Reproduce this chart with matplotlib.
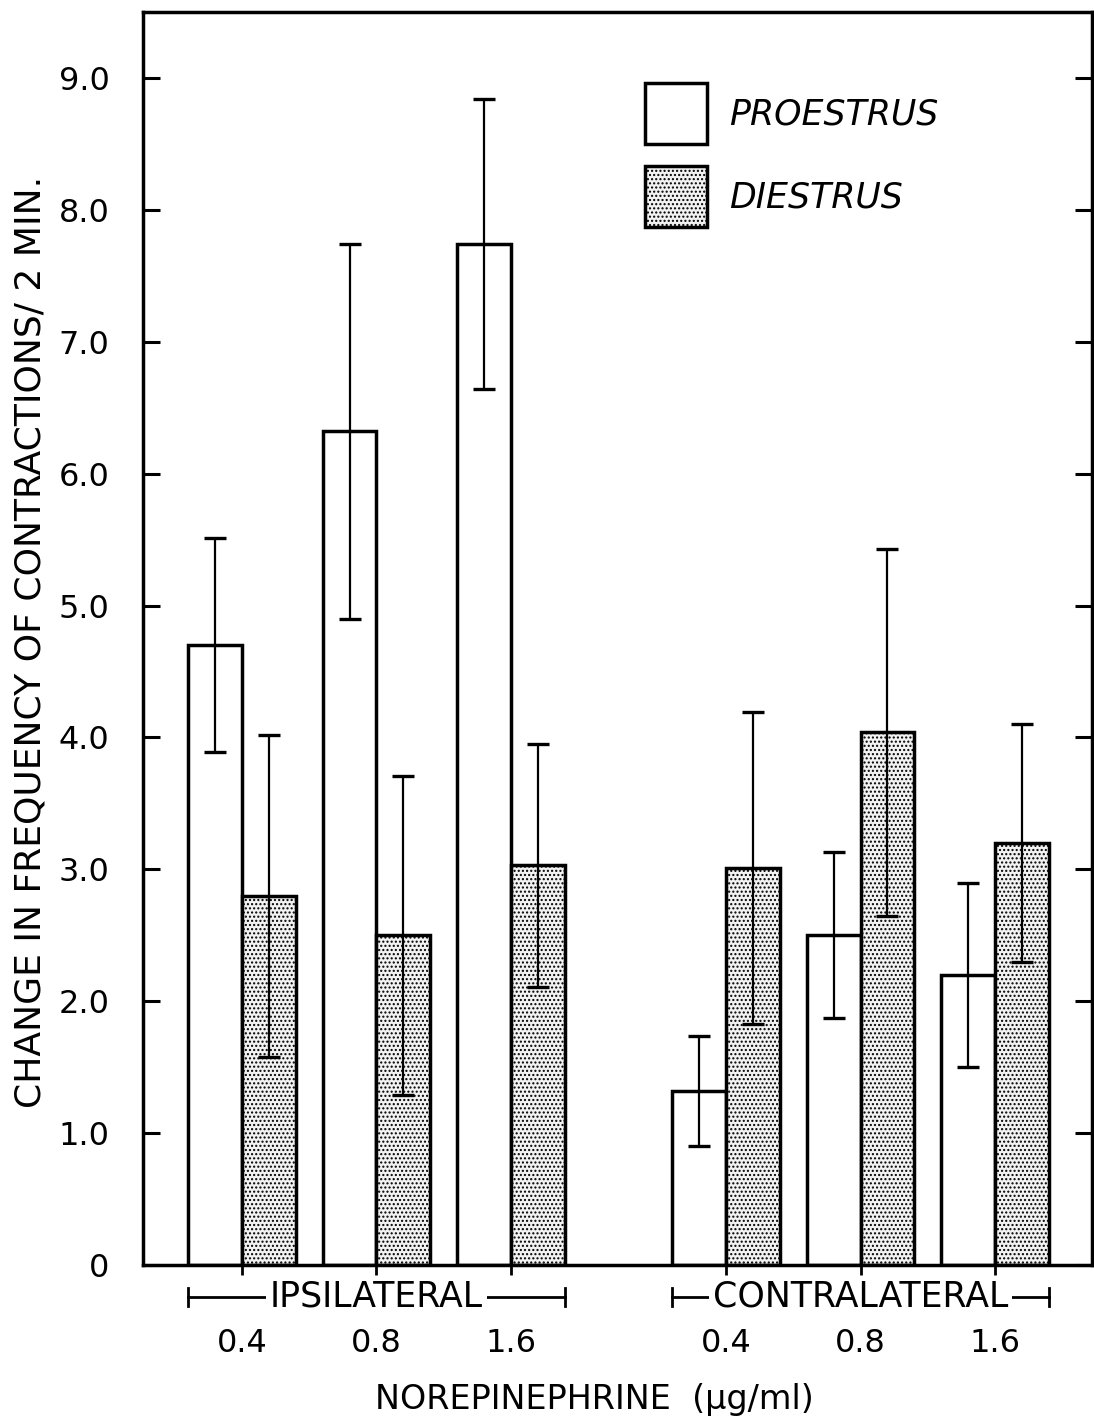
import matplotlib.pyplot as plt
from matplotlib.patches import Patch
import numpy as np

# values (6 doses: ipsilateral 0.4/0.8/1.6, contralateral 0.4/0.8/1.6)
dose_labels = ['0.4', '0.8', '1.6', '0.4', '0.8', '1.6']
groups = ['IPSILATERAL', 'CONTRALATERAL']
proestrus = [4.7, 6.32, 7.74, 1.32, 2.5, 2.2]
proestrus_err = [0.81, 1.42, 1.1, 0.42, 0.63, 0.7]
diestrus = [2.8, 2.5, 3.03, 3.01, 4.04, 3.2]
diestrus_err = [1.22, 1.21, 0.92, 1.18, 1.39, 0.9]

plt.rcParams['font.family'] = 'DejaVu Sans'
plt.rcParams['hatch.color'] = '#222222'
plt.rcParams['hatch.linewidth'] = 1.0

fig = plt.figure(figsize=(10.94, 14.19), dpi=100)
ax = fig.add_axes([0.1307, 0.1085, 0.8673, 0.8830])

# pair positions: three pairs per group, wide gap between the groups
n = len(proestrus)
pair_x = np.array([(i % 3) * 2.5 + (i // 3) * 9.0 for i in range(n)])
w = 1.0

ax.bar(pair_x, proestrus, w, color='white', edgecolor='black', linewidth=2.5, zorder=2)
ax.bar(pair_x + w, diestrus, w, color='#f2f2f2', edgecolor='black', linewidth=2.5,
       hatch='....', zorder=2)

ax.errorbar(pair_x, proestrus, yerr=proestrus_err, fmt='none', ecolor='black',
            elinewidth=1.6, capsize=8, capthick=2.4, zorder=3)
ax.errorbar(pair_x + w, diestrus, yerr=diestrus_err, fmt='none', ecolor='black',
            elinewidth=1.6, capsize=8, capthick=2.4, zorder=3)

ax.set_xlim(-1.34, 16.3)
ax.set_ylim(0, 9.5)

# y axis
yt = np.arange(0, 10)
ax.set_yticks(yt)
ax.set_yticklabels(['0'] + ['%.1f' % v for v in yt[1:]])
ax.tick_params(axis='y', direction='in', length=12, width=2.2, labelsize=23,
               pad=24, right=True)

# x axis: ticks between the pair bars
ax.set_xticks(pair_x + w / 2)
ax.set_xticklabels(dose_labels)
ax.tick_params(axis='x', direction='out', length=7, width=2, labelsize=23, pad=38)

for s in ax.spines.values():
    s.set_linewidth(2.5)

# group brackets under the axis
tr = ax.get_xaxis_transform()
for g, name in enumerate(groups):
    x0 = pair_x[g * 3] - w / 2
    x1 = pair_x[g * 3 + 2] + 1.5 * w
    yb = -0.0255
    ax.plot([x0, x1], [yb, yb], color='black', lw=2, transform=tr, clip_on=False)
    for xe in (x0, x1):
        ax.plot([xe, xe], [yb - 0.007, yb + 0.007], color='black', lw=2,
                transform=tr, clip_on=False)
    ax.text((x0 + x1) / 2, yb, name, transform=tr, ha='center', va='center',
            fontsize=25, bbox=dict(facecolor='white', edgecolor='none', pad=3))

ax.set_ylabel('CHANGE IN FREQUENCY OF CONTRACTIONS/ 2 MIN.', fontsize=26)
ax.yaxis.set_label_coords(-0.101, 0.497)
ax.set_xlabel('NOREPINEPHRINE  (\u00b5g/ml)', fontsize=24)
ax.xaxis.set_label_coords(0.476, -0.094)

handles = [Patch(facecolor='white', edgecolor='black', linewidth=2.5),
           Patch(facecolor='#f2f2f2', edgecolor='black', linewidth=2.5, hatch='....')]
ax.legend(handles, ['PROESTRUS', 'DIESTRUS'], loc='upper left',
          bbox_to_anchor=(0.511, 0.957), frameon=False, borderpad=0,
          handlelength=1.79, handleheight=2.33, labelspacing=0.63, handletextpad=0.63,
          prop={'size': 25, 'style': 'italic'})

fig.savefig('out.png', dpi=100)
